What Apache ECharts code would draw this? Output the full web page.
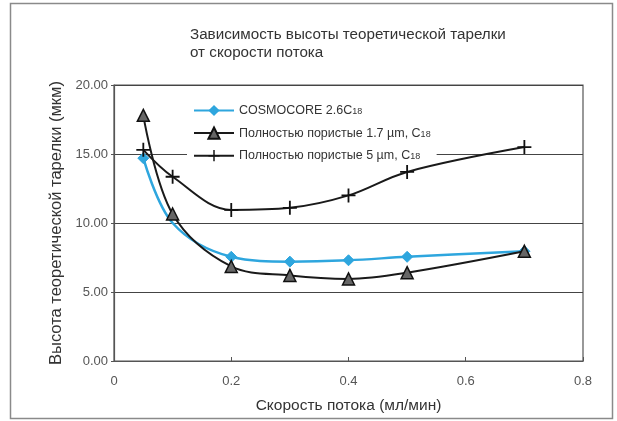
<!DOCTYPE html>
<html>
<head>
<meta charset="utf-8">
<script src="https://cdn.jsdelivr.net/npm/echarts@6/dist/echarts.min.js"></script>
<style>
  html, body { margin: 0; padding: 0; background: #fff; }
  #chart { width: 617px; height: 421px; }
</style>
</head>
<body>
<div id="chart"></div>
<script>
// Flow rate (ml/min) and plate height (µm) for each column type
const cosmoFlow   = [0.05, 0.1, 0.2, 0.3, 0.4, 0.5, 0.7];
const cosmoHeight = [14.7, 10.0, 7.55, 7.2, 7.3, 7.55, 7.95];
const cosmoHidden = [false, true, false, false, false, false, false];

const p17Flow   = [0.05, 0.1, 0.2, 0.3, 0.4, 0.5, 0.7];
const p17Height = [17.8, 10.65, 6.85, 6.2, 5.95, 6.4, 7.95];

const p5Flow   = [0.05, 0.1, 0.2, 0.3, 0.4, 0.5, 0.7];
const p5Height = [15.3, 13.35, 10.95, 11.1, 12.0, 13.7, 15.5];

const seriesNames = [
  'COSMOCORE 2.6C{s|18}',
  'Полностью пористые 1.7 µm, C{s|18}',
  'Полностью пористые 5 µm, C{s|18}'
];
const titleLines = ['Зависимость высоты теоретической тарелки', 'от скорости потока'];
const xTicks = [0, 0.2, 0.4, 0.6, 0.8];
const yTicks = [0, 5, 10, 15, 20];

const FONT = 'Liberation Sans, Arial, sans-serif';
const plusPath = 'path://M4.35,0 L5.65,0 L5.65,4.35 L10,4.35 L10,5.65 L5.65,5.65 L5.65,10 L4.35,10 L4.35,5.65 L0,5.65 L0,4.35 L4.35,4.35 Z';

function pairs(xs, ys) { return xs.map((x, i) => [x, ys[i]]); }

const chart = echarts.init(document.getElementById('chart'), null, { renderer: 'canvas' });

chart.setOption({
  backgroundColor: '#ffffff',
  animation: false,
  graphic: [{
    type: 'rect',
    shape: { x: 10.5, y: 3.5, width: 602, height: 415 },
    style: { fill: 'none', stroke: '#8a8a8a', lineWidth: 1.5 },
    z: -1
  }],
  title: {
    text: titleLines.join('\n'),
    left: 185, top: 21,
    textStyle: { fontFamily: FONT, fontSize: 15.2, fontWeight: 'normal', color: '#333', lineHeight: 18 }
  },
  grid: { left: 114, top: 85, right: 34, bottom: 60, show: true, borderColor: '#555', borderWidth: 1.2, backgroundColor: 'transparent' },
  legend: {
    orient: 'vertical',
    left: 187, top: 102,
    itemWidth: 40, itemHeight: 14,
    itemGap: 9.5,
    padding: [2, 6, 2, 6],
    backgroundColor: '#ffffff',
    data: seriesNames,
    formatter: name => name,
    textStyle: {
      fontFamily: FONT, fontSize: 12.5, color: '#333',
      rich: { s: { fontFamily: FONT, fontSize: 9, color: '#333', padding: [2, 0, 0, 0] } }
    }
  },
  xAxis: {
    type: 'value',
    min: xTicks[0], max: xTicks[xTicks.length - 1], interval: 0.2,
    name: 'Скорость потока (мл/мин)',
    nameLocation: 'middle', nameGap: 37,
    nameTextStyle: { fontFamily: FONT, fontSize: 15.5, color: '#333' },
    axisLine: { lineStyle: { color: '#555', width: 1.2 } },
    axisTick: { inside: true, length: 4, lineStyle: { color: '#555' } },
    splitLine: { show: false },
    axisLabel: { fontFamily: FONT, fontSize: 13, color: '#555', margin: 14 }
  },
  yAxis: {
    type: 'value',
    min: yTicks[0], max: yTicks[yTicks.length - 1], interval: 5,
    name: 'Высота теоретической тарелки (мкм)',
    nameLocation: 'middle', nameGap: 48,
    nameTextStyle: { fontFamily: FONT, fontSize: 16.5, color: '#333' },
    axisLine: { lineStyle: { color: '#555', width: 1.2 } },
    axisTick: { show: true, length: 3, lineStyle: { color: '#555' } },
    splitLine: { show: true, lineStyle: { color: '#444', width: 1 } },
    axisLabel: { fontFamily: FONT, fontSize: 13, color: '#555', margin: 6, formatter: v => v.toFixed(2) }
  },
  series: [
    {
      name: seriesNames[0],
      type: 'line',
      smooth: 0.35,
      data: pairs(cosmoFlow, cosmoHeight).map((p, i) =>
        cosmoHidden[i] ? { value: p, symbolSize: 0 } : { value: p }),
      symbol: 'diamond', symbolSize: 11,
      lineStyle: { color: '#2ea6de', width: 2.5 },
      itemStyle: { color: '#2ea6de', borderColor: '#2ea6de' },
      z: 3
    },
    {
      name: seriesNames[1],
      type: 'line',
      smooth: 0.35,
      data: pairs(p17Flow, p17Height),
      symbol: 'triangle', symbolSize: 12,
      lineStyle: { color: '#1a1a1a', width: 2 },
      itemStyle: { color: '#666', borderColor: '#111', borderWidth: 1.5 },
      z: 4
    },
    {
      name: seriesNames[2],
      type: 'line',
      smooth: 0.35,
      data: pairs(p5Flow, p5Height),
      symbol: plusPath, symbolSize: 14,
      lineStyle: { color: '#1a1a1a', width: 2 },
      itemStyle: { color: '#111' },
      z: 4
    }
  ]
});
</script>
</body>
</html>
